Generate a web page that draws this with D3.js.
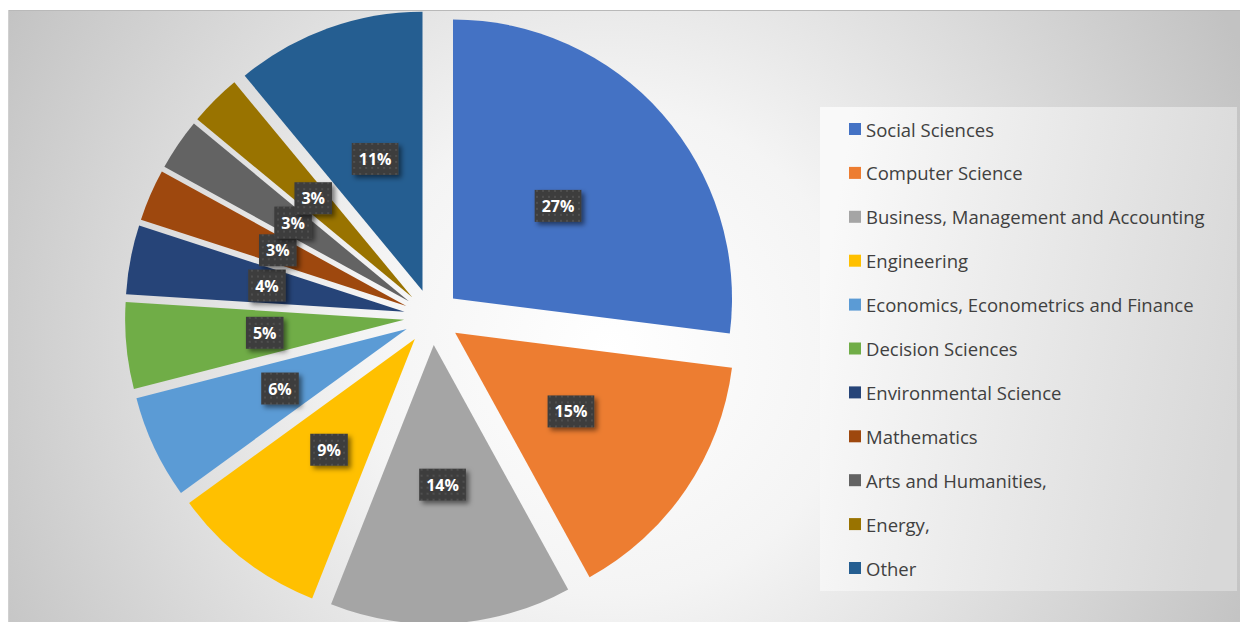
<!DOCTYPE html>
<html>
<head>
<meta charset="utf-8">
<script src="https://cdn.jsdelivr.net/npm/d3@7"></script>
<style>
  html, body { margin: 0; padding: 0; background: #ffffff; }
  svg { display: block; }
</style>
</head>
<body>
<svg id="chart" width="1240" height="622"></svg>
<script>
// Subject areas and their share of publications (%)
const categories = [
  "Social Sciences",
  "Computer Science",
  "Business, Management and Accounting",
  "Engineering",
  "Economics, Econometrics and Finance",
  "Decision Sciences",
  "Environmental Science",
  "Mathematics",
  "Arts and Humanities,",
  "Energy,",
  "Other"
];
const shares = [27, 15, 14, 9, 6, 5, 4, 3, 3, 3, 11];
const colors = [
  "#4472C4", "#ED7D31", "#A5A5A5", "#FFC000", "#5B9BD5",
  "#70AD47", "#264478", "#9E480E", "#636363", "#997300", "#255E91"
];

const svg = d3.select("#chart");
const W = 1240, H = 622;

// ---- definitions: background gradients, label texture, shadow ----
const defs = svg.append("defs");

const bg = defs.append("radialGradient")
  .attr("id", "bgGrad")
  .attr("gradientUnits", "userSpaceOnUse")
  .attr("cx", 610).attr("cy", 350).attr("r", 700);
bg.append("stop").attr("offset", "0%").attr("stop-color", "#ffffff");
bg.append("stop").attr("offset", "35%").attr("stop-color", "#f4f4f4");
bg.append("stop").attr("offset", "100%").attr("stop-color", "#c2c2c2");

const lg = defs.append("linearGradient")
  .attr("id", "legendGrad")
  .attr("x1", "0%").attr("y1", "40%").attr("x2", "100%").attr("y2", "60%");
lg.append("stop").attr("offset", "0%").attr("stop-color", "#f9f9f9");
lg.append("stop").attr("offset", "100%").attr("stop-color", "#d8d8d8");

const pat = defs.append("pattern")
  .attr("id", "dots")
  .attr("patternUnits", "userSpaceOnUse")
  .attr("width", 6).attr("height", 6);
pat.append("rect").attr("width", 6).attr("height", 6).attr("fill", "#3d3d3d");
pat.append("rect").attr("x", 2).attr("y", 2).attr("width", 2).attr("height", 2).attr("fill", "#4f4f4f");

const shadow = defs.append("filter")
  .attr("id", "boxShadow")
  .attr("x", "-30%").attr("y", "-30%").attr("width", "170%").attr("height", "170%");
shadow.append("feDropShadow")
  .attr("dx", 3).attr("dy", 3).attr("stdDeviation", 2.5)
  .attr("flood-color", "#000").attr("flood-opacity", 0.5);

// ---- chart area ----
const area = { x: 8, y: 10, w: W - 8, h: H - 10 };
svg.append("rect")
  .attr("x", area.x).attr("y", area.y)
  .attr("width", area.w).attr("height", area.h)
  .attr("fill", "url(#bgGrad)");
svg.append("line")
  .attr("x1", area.x).attr("x2", area.x + area.w)
  .attr("y1", area.y + 0.5).attr("y2", area.y + 0.5)
  .attr("stroke", "#b9b9b9").attr("stroke-width", 1);
svg.append("line")
  .attr("x1", area.x + 0.5).attr("x2", area.x + 0.5)
  .attr("y1", area.y).attr("y2", H)
  .attr("stroke", "#d0d0d0").attr("stroke-width", 1);

// ---- exploded pie ----
const cx = 432, cy = 317, radius = 279, explode = 28, labelR = 168;

const pie = d3.pie().sort(null).value(d => d.value);
const arcs = pie(categories.map((c, i) => ({ name: c, value: shares[i], color: colors[i] })));
const arc = d3.arc().innerRadius(0).outerRadius(radius);

const mid = d => (d.startAngle + d.endAngle) / 2;

const pieG = svg.append("g").attr("transform", `translate(${cx},${cy})`);

pieG.selectAll("path.slice")
  .data(arcs)
  .join("path")
  .attr("class", "slice")
  .attr("transform", d => `translate(${explode * Math.sin(mid(d))},${-explode * Math.cos(mid(d))})`)
  .attr("d", arc)
  .attr("fill", d => d.data.color);

// ---- data labels ----
const labels = pieG.selectAll("g.label")
  .data(arcs)
  .join("g")
  .attr("class", "label")
  .attr("transform", d => `translate(${labelR * Math.sin(mid(d))},${-labelR * Math.cos(mid(d))})`);

labels.append("rect").attr("class", "lbox");
labels.append("text")
  .attr("text-anchor", "middle")
  .attr("dominant-baseline", "central")
  .attr("font-family", "'Open Sans', sans-serif")
  .attr("font-weight", "bold")
  .attr("font-size", 16)
  .attr("fill", "#ffffff")
  .text(d => d.data.value + "%");

labels.each(function () {
  const g = d3.select(this);
  const bb = g.select("text").node().getBBox();
  const bw = bb.width + 14, bh = 32;
  g.select("rect")
    .attr("x", -bw / 2).attr("y", -bh / 2)
    .attr("width", bw).attr("height", bh)
    .attr("fill", "url(#dots)")
    .attr("filter", "url(#boxShadow)");
});

// ---- legend ----
const legend = { x: 820, y: 107, w: 417, h: 484 };
svg.append("rect")
  .attr("x", legend.x).attr("y", legend.y)
  .attr("width", legend.w).attr("height", legend.h)
  .attr("fill", "url(#legendGrad)");

const rowY = d3.scalePoint()
  .domain(categories)
  .range([129, 568]);

const items = svg.append("g").selectAll("g")
  .data(arcs)
  .join("g")
  .attr("transform", d => `translate(849,${rowY(d.data.name)})`);

items.append("rect")
  .attr("x", 0).attr("y", -6)
  .attr("width", 12).attr("height", 12)
  .attr("fill", d => d.data.color);

items.append("text")
  .attr("x", 17)
  .attr("dominant-baseline", "central")
  .attr("font-family", "'Open Sans', sans-serif")
  .attr("font-size", 18.5)
  .attr("fill", "#404040")
  .text(d => d.data.name);
</script>
</body>
</html>
